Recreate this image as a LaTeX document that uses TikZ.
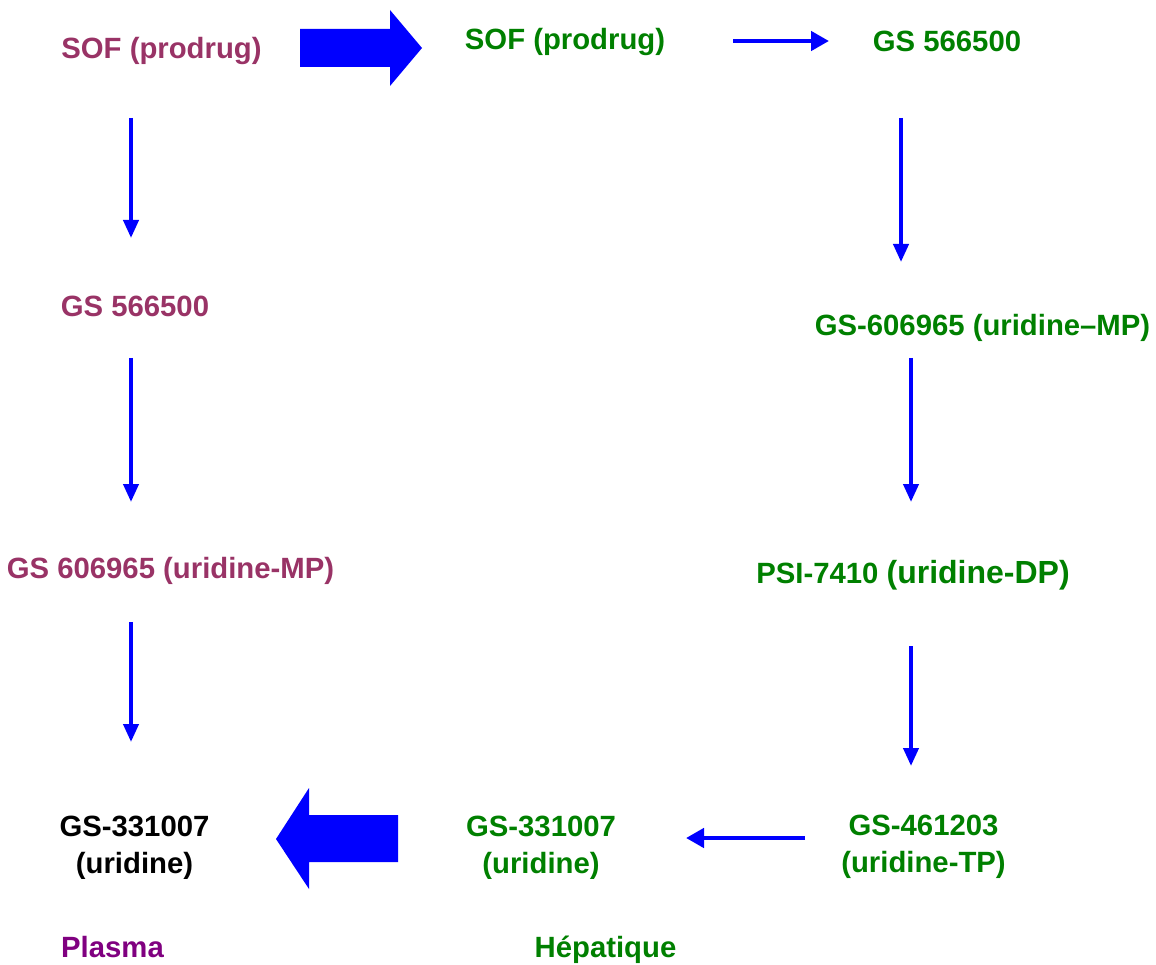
\documentclass[tikz,border=0pt]{standalone}
\usepackage{fontspec}
\setmainfont{Liberation Sans}
\usetikzlibrary{arrows.meta}
\definecolor{plum}{RGB}{153,51,102}
\definecolor{dgreen}{RGB}{0,128,0}
\definecolor{purp}{RGB}{128,0,128}
\definecolor{ablue}{RGB}{0,0,255}
\tikzset{
  lbl/.style={anchor=base,inner sep=0pt,font=\fontsize{29.3}{37}\selectfont\bfseries,align=center},
  plas/.style={lbl,text=plum},
  hep/.style={lbl,text=dgreen},
  arr/.style={draw=ablue,line width=4pt,-{Triangle[length=18pt,width=15pt]}},
  harr/.style={draw=ablue,line width=4.5pt,-{Triangle[length=18pt,width=19pt]}},
  bigarr/.style={fill=ablue,draw=none}
}
\begin{document}
\begin{tikzpicture}[x=1pt,y=-1pt]
\useasboundingbox (0,0) rectangle (1156,965);
\fill[white] (0,0) rectangle (1156,965);
% plasma column
\node[plas] (p1) at (161.5,59) {SOF (prodrug)};
\node[plas] (p2) at (135,317) {GS 566500};
\node[plas] (p3) at (170.5,578) {GS 606965 (uridine-MP)};
% hepatic column
\node[hep] (h1) at (565,50) {SOF (prodrug)};
\node[hep] (h2) at (947,52) {GS 566500};
\node[hep] (h3) at (982.5,336) {GS-606965 (uridine–MP)};
\node[hep] (h4) at (913,583) {PSI-7410 {\fontsize{32}{37}\selectfont(uridine-DP)}};
\begin{scope}
\clip (0,780) rectangle (1156,878);
\node[lbl,text=black] (p4) at (134.5,873) {GS-331007\\(uridine)};
\node[hep] (h6) at (541,873) {GS-331007\\(uridine)};
\node[hep] (h5) at (923.5,872) {GS-461203\\(uridine-TP)};
\end{scope}
\node[lbl,text=purp] (lp) at (112.5,957) {Plasma};
\node[hep] (lh) at (605.5,957) {Hépatique};
% arrow end points
\coordinate (a1s) at (131,118); \coordinate (a1e) at (131,238);
\coordinate (a2s) at (131,358); \coordinate (a2e) at (131,502);
\coordinate (a3s) at (131,622); \coordinate (a3e) at (131,742);
\coordinate (b1s) at (901,118); \coordinate (b1e) at (901,262);
\coordinate (b2s) at (911,358); \coordinate (b2e) at (911,502);
\coordinate (b3s) at (911,646); \coordinate (b3e) at (911,766);
\coordinate (c1s) at (733,41); \coordinate (c1e) at (829,41);
\coordinate (c2s) at (805,838); \coordinate (c2e) at (686,838);
\draw[arr] (a1s) -- (a1e);
\draw[arr] (a2s) -- (a2e);
\draw[arr] (a3s) -- (a3e);
\draw[arr] (b1s) -- (b1e);
\draw[arr] (b2s) -- (b2e);
\draw[arr] (b3s) -- (b3e);
\draw[harr] (c1s) -- (c1e);
\draw[harr] (c2s) -- (c2e);
% big block arrows
\fill[bigarr] (300,29) -- (390,29) -- (390,10) -- (422,48) -- (390,86) -- (390,67) -- (300,67) -- cycle;
\fill[bigarr] (398,815) -- (309,815) -- (309,788) -- (276,839) -- (309,889) -- (309,862) -- (398,862) -- cycle;
\end{tikzpicture}
\end{document}
